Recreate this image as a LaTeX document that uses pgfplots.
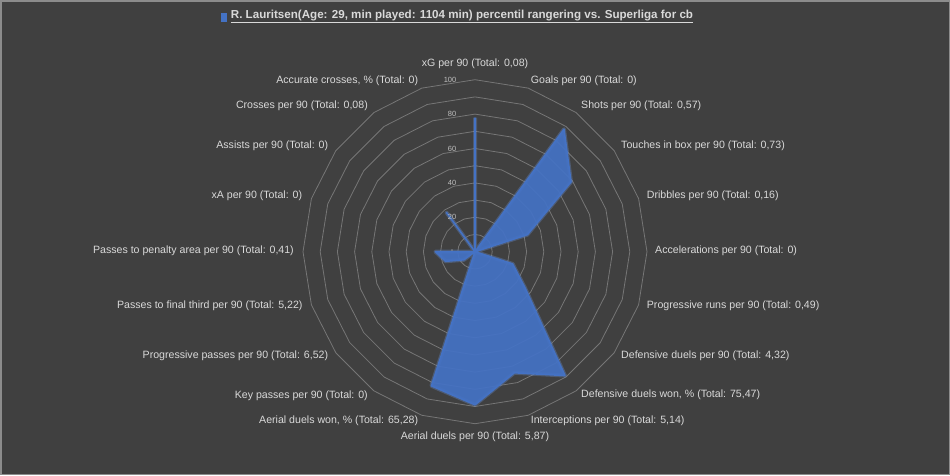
\documentclass[border=0pt]{standalone}
\usepackage{fontspec}
\setmainfont{Liberation Sans}
\usepackage{pgfplots}
\usepackage{pgfplotstable}
\pgfplotsset{compat=1.18}
\usepgfplotslibrary{polar}
\definecolor{bg}{HTML}{404040}
\definecolor{framec}{HTML}{8C8C8C}
\definecolor{gridc}{HTML}{767676}
\definecolor{lbl}{HTML}{D9D9D9}
\definecolor{tickc}{HTML}{BFBFBF}
\definecolor{series}{HTML}{4472C4}

\pgfplotstableread{
a   r
90  100
72  100
54  100
36  100
18  100
0   100
342 100
324 100
306 100
288 100
270 100
252 100
234 100
216 100
198 100
180 100
162 100
144 100
126 100
108 100
90  100
}\angles

\pgfplotstableread{
a   v
90  78
72  0
54  88
36  69
18  32
0   0
342 23
324 36
306 89
288 74
270 89
252 82
234 0
216 8
198 18
180 23
162 0
144 0
126 28
108 0
90  78
}\player

\begin{document}
\begin{tikzpicture}
\useasboundingbox (0,0) rectangle (950pt,475pt);
\fill[framec] (0,0) rectangle (950pt,475pt);
\fill[bg] (1.5pt,1.5pt) rectangle (948.5pt,473pt);
\begin{polaraxis}[
  at={(475pt,223.3pt)}, anchor=center,
  width=344pt, height=344pt, scale only axis,
  ymin=0, ymax=100, xmin=0, xmax=360,
  hide axis, clip=false,
]
\pgfplotsinvokeforeach{10,20,30,40,50,60,70,80,90,100}{
  \addplot[gridc, line width=0.8pt, no markers] table[x=a, y expr={#1}] {\angles};
}
\addplot[draw=series!80!white, opacity=0.35, line width=4pt, line join=round, no markers] table[x=a, y=v] {\player};
\addplot[draw=series, fill=series, fill opacity=0.93, line width=1.6pt, line join=round, no markers] table[x=a, y=v] {\player};
\pgfplotsinvokeforeach{20,40,60,80,100}{
  \node[anchor=east, inner sep=0, text=tickc, font=\fontsize{7.5}{9}\selectfont, xshift=-18.5pt] at (axis cs:90,#1) {#1};
}
\node[anchor=east, inner sep=0, text=tickc, font=\fontsize{7.5}{9}\selectfont, xshift=-21.5pt] at (axis cs:90,0) {-};
\end{polaraxis}

\fill[series] (220.7pt,453.3pt) rectangle (227.3pt,461.7pt);
\node[anchor=west, inner sep=0, text=lbl, font=\fontsize{11.6}{13}\selectfont\bfseries] at (230.7pt,458.3pt) {\underline{R. Lauritsen(Age: 29, min played: 1104 min) percentil rangering vs. Superliga for cb}};

\begin{scope}[every node/.style={inner sep=0, text=lbl, font=\fontsize{10.6}{12}\selectfont}]
\node[anchor=center] at (475pt,411pt) {xG per 90 (Total: 0,08)};
\node[anchor=west] at (530.7pt,394pt) {Goals per 90 (Total: 0)};
\node[anchor=west] at (581pt,369pt) {Shots per 90 (Total: 0,57)};
\node[anchor=west] at (621pt,329.3pt) {Touches in box per 90 (Total: 0,73)};
\node[anchor=west] at (646.7pt,279.3pt) {Dribbles per 90 (Total: 0,16)};
\node[anchor=west] at (655pt,224.7pt) {Accelerations per 90 (Total: 0)};
\node[anchor=west] at (646.7pt,169pt) {Progressive runs per 90 (Total: 0,49)};
\node[anchor=west] at (621pt,119.3pt) {Defensive duels per 90 (Total: 4,32)};
\node[anchor=west] at (581pt,80pt) {Defensive duels won, \% (Total: 75,47)};
\node[anchor=west] at (530.7pt,54.3pt) {Interceptions per 90 (Total: 5,14)};
\node[anchor=center] at (475pt,38.3pt) {Aerial duels per 90 (Total: 5,87)};
\node[anchor=east] at (418.3pt,54.3pt) {Aerial duels won, \% (Total: 65,28)};
\node[anchor=east] at (368pt,79.7pt) {Key passes per 90 (Total: 0)};
\node[anchor=east] at (328.3pt,119.3pt) {Progressive passes per 90 (Total: 6,52)};
\node[anchor=east] at (302.7pt,169pt) {Passes to final third per 90 (Total: 5,22)};
\node[anchor=east] at (294pt,224.7pt) {Passes to penalty area per 90 (Total: 0,41)};
\node[anchor=east] at (302.3pt,279.3pt) {xA per 90 (Total: 0)};
\node[anchor=east] at (328.3pt,329.3pt) {Assists per 90 (Total: 0)};
\node[anchor=east] at (368pt,369pt) {Crosses per 90 (Total: 0,08)};
\node[anchor=east] at (418.3pt,394pt) {Accurate crosses, \% (Total: 0)};
\end{scope}
\end{tikzpicture}
\end{document}
